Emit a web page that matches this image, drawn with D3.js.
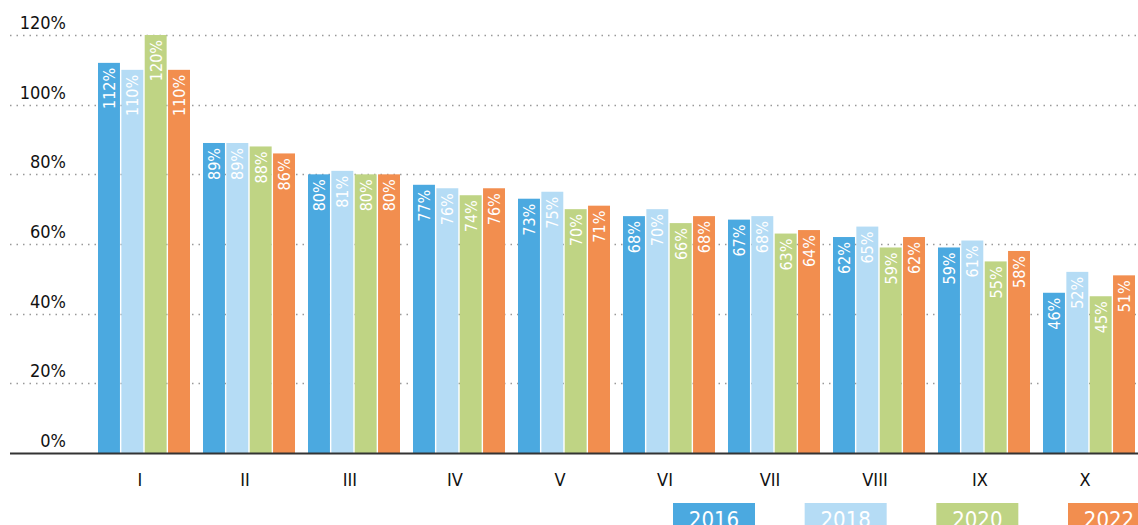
<!DOCTYPE html>
<html>
<head>
<meta charset="utf-8">
<script src="https://cdn.jsdelivr.net/npm/d3@7"></script>
<style>
  body { margin: 0; background: #fff; }
  svg { display: block; font-family: "DejaVu Sans Condensed", "DejaVu Sans", sans-serif; }
</style>
</head>
<body>
<svg id="chart" width="1138" height="525"></svg>
<script>
// Categories and series values (percent)
const categories = ["I", "II", "III", "IV", "V", "VI", "VII", "VIII", "IX", "X"];
const years = ["2016", "2018", "2020", "2022"];
const values2016 = [112, 89, 80, 77, 73, 68, 67, 62, 59, 46];
const values2018 = [110, 89, 81, 76, 75, 70, 68, 65, 61, 52];
const values2020 = [120, 88, 80, 74, 70, 66, 63, 59, 55, 45];
const values2022 = [110, 86, 80, 76, 71, 68, 64, 62, 58, 51];
const yTicks = [0, 20, 40, 60, 80, 100, 120];
const colors = ["#4BA9E0", "#B5DCF5", "#BFD484", "#F28E4F"];

const series = [values2016, values2018, values2020, values2022];
const svg = d3.select("#chart");

const baseY = 453;

const y = d3.scaleLinear().domain([0, 120]).range([baseY, 35]);

const x0 = d3.scaleBand()
  .domain(categories)
  .range([91.5, 91.5 + 105 * categories.length])
  .paddingInner(13 / 105)
  .paddingOuter(6.5 / 105);

const x1 = d3.scaleBand()
  .domain(years)
  .range([0, x0.bandwidth()])
  .paddingInner(0.06);

// Dotted grid lines
svg.append("g")
  .selectAll("line")
  .data(yTicks.filter(d => d > 0))
  .join("line")
  .attr("x1", 10).attr("x2", 1138)
  .attr("y1", d => Math.round(y(d)) + 0.5)
  .attr("y2", d => Math.round(y(d)) + 0.5)
  .attr("stroke", "#999")
  .attr("stroke-width", 1.5)
  .attr("stroke-dasharray", "1.5,5");

// Y tick labels
svg.append("g")
  .selectAll("text")
  .data(yTicks)
  .join("text")
  .attr("x", 66)
  .attr("y", d => y(d) - 6)
  .attr("text-anchor", "end")
  .attr("font-size", 18)
  .attr("fill", "#111")
  .text(d => d + "%");

// Bars
const groups = svg.append("g")
  .selectAll("g")
  .data(categories)
  .join("g")
  .attr("transform", d => `translate(${x0(d)},0)`);

const cells = (d, i) => years.map((yr, k) => ({ yr, v: series[k][i], k }));

groups.selectAll("rect")
  .data(cells)
  .join("rect")
  .attr("x", d => x1(d.yr))
  .attr("width", x1.bandwidth())
  .attr("y", d => y(d.v))
  .attr("height", d => baseY - y(d.v))
  .attr("fill", d => colors[d.k]);

// Value labels inside bars, rotated
groups.selectAll("text")
  .data(cells)
  .join("text")
  .attr("transform", d => `translate(${x1(d.yr) + x1.bandwidth() / 2 + 6},${y(d.v) + 5}) rotate(-90)`)
  .attr("text-anchor", "end")
  .attr("font-size", 16)
  .attr("fill", "#fff")
  .text(d => d.v + "%");

// Baseline axis
svg.append("line")
  .attr("x1", 10).attr("x2", 1138)
  .attr("y1", baseY + 0.5).attr("y2", baseY + 0.5)
  .attr("stroke", "#333")
  .attr("stroke-width", 2);

// Category labels
svg.append("g")
  .selectAll("text")
  .data(categories)
  .join("text")
  .attr("x", d => x0(d) + x0.bandwidth() / 2 - 4)
  .attr("y", 486)
  .attr("text-anchor", "middle")
  .attr("font-size", 18)
  .attr("fill", "#111")
  .text(d => d);

// Legend
const legendX = d3.scalePoint().domain(years).range([673, 1068]);
const legend = svg.append("g")
  .selectAll("g")
  .data(years)
  .join("g")
  .attr("transform", d => `translate(${legendX(d)},503)`);

legend.append("rect")
  .attr("width", 82).attr("height", 30)
  .attr("fill", (d, i) => colors[i]);

legend.append("text")
  .attr("x", 41).attr("y", 24)
  .attr("text-anchor", "middle")
  .attr("font-size", 22)
  .attr("fill", "#fff")
  .text(d => d);
</script>
</body>
</html>
